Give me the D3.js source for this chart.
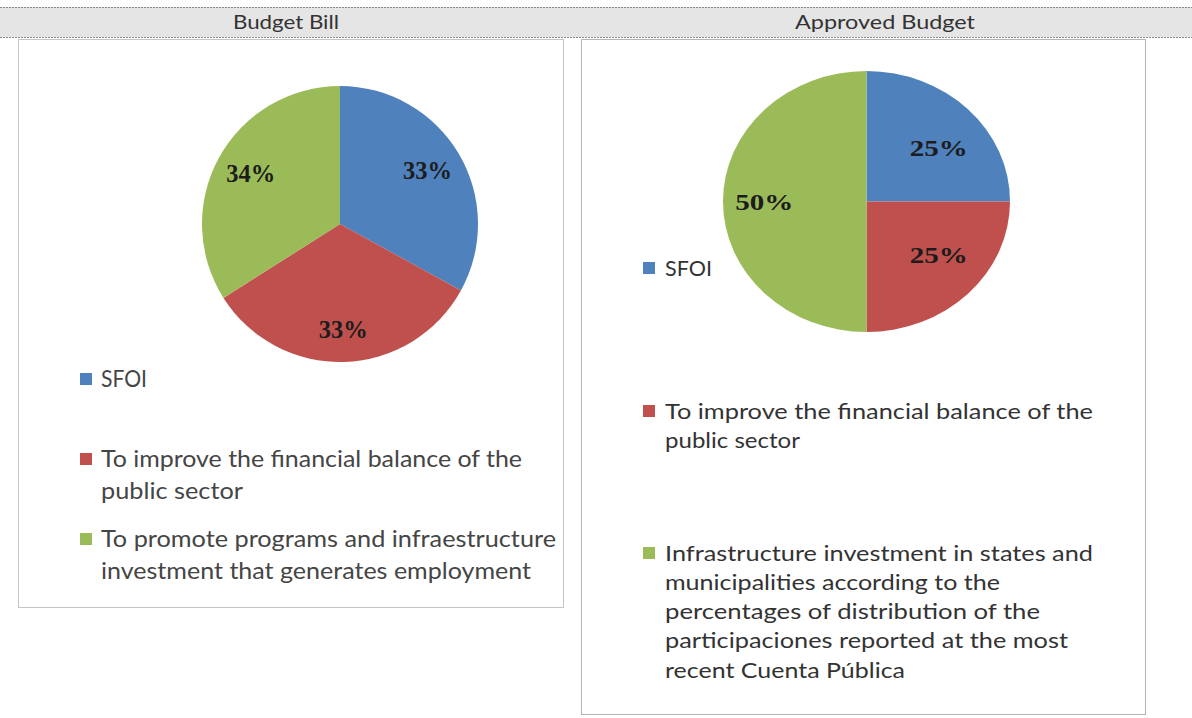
<!DOCTYPE html>
<html>
<head>
<meta charset="utf-8">
<script src="https://cdn.jsdelivr.net/npm/d3@7"></script>
<style>
  body { margin: 0; background: #fff; }
  svg { display: block; }
</style>
</head>
<body>
<div id="chart"></div>
<script>
// chart data
var panelTitles = ["Budget Bill", "Approved Budget"];

var billCategories = ["SFOI",
  "To improve the financial balance of the public sector",
  "To promote programs and infraestructure investment that generates employment"];
var billValues = [33, 33, 34];
var billLabels = ["33%", "33%", "34%"];
var billLegendLines = [
  ["SFOI"],
  ["To improve the financial balance of the", "public sector"],
  ["To promote programs and infraestructure", "investment that generates employment"]
];

var approvedCategories = ["SFOI",
  "To improve the financial balance of the public sector",
  "Infrastructure investment in states and municipalities according to the percentages of distribution of the participaciones reported at the most recent Cuenta Pública"];
var approvedValues = [25, 25, 50];
var approvedLabels = ["25%", "25%", "50%"];
var approvedLegendLines = [
  ["SFOI"],
  ["To improve the financial balance of the", "public sector"],
  ["Infrastructure investment in states and", "municipalities according to the",
   "percentages of distribution of the", "participaciones reported at the most",
   "recent Cuenta Pública"]
];

var colors = ["#4F81BD", "#C0504D", "#9BBB59"];

var W = 1192, H = 718;

var svg = d3.select("#chart").append("svg")
  .attr("width", W)
  .attr("height", H);

//header band
svg.append("rect")
  .attr("x", 0).attr("y", 7)
  .attr("width", W).attr("height", 30)
  .attr("fill", "#e5e5e5");
[7, 37].forEach(function(y){
  svg.append("line")
    .attr("x1", 0).attr("x2", W)
    .attr("y1", y + 0.5).attr("y2", y + 0.5)
    .attr("stroke", "#8a8a8a")
    .attr("stroke-dasharray", "2,1");
});
svg.selectAll("text.title")
  .data(panelTitles)
  .enter()
  .append("text")
  .attr("class", "title")
  .attr("x", function(d, i){ return i == 0 ? 286 : 885; })
  .attr("y", 29)
  .attr("text-anchor", "middle")
  .attr("font-family", "Lato, 'Open Sans', sans-serif")
  .attr("font-size", 20)
  .attr("fill", "#333")
  .attr("textLength", function(d, i){ return i == 0 ? 106 : 180; })
  .attr("lengthAdjust", "spacingAndGlyphs")
  .text(function(d){ return d; });

// panel boxes
svg.append("rect")
  .attr("x", 18.5).attr("y", 39.5)
  .attr("width", 545).attr("height", 568)
  .attr("fill", "#fff")
  .attr("stroke", "#c4c4c4");
svg.append("rect")
  .attr("x", 581.5).attr("y", 39.5)
  .attr("width", 564).attr("height", 675)
  .attr("fill", "#fff")
  .attr("stroke", "#b4b4b4");

function drawPie(opt){
  var g = svg.append("g")
    .attr("transform", "translate(" + opt.cx + "," + opt.cy + ")");

  var pie = d3.pie().sort(null).value(function(d){ return d; });
  var arcs = pie(opt.values);
  var sx = opt.rx / opt.r;

  var arc = d3.arc().innerRadius(0).outerRadius(opt.r);
  var labelArc = d3.arc().innerRadius(opt.r * opt.lf).outerRadius(opt.r * opt.lf);

  g.append("g")
    .attr("transform", "scale(" + sx + ",1)")
    .selectAll("path")
    .data(arcs)
    .enter()
    .append("path")
    .attr("d", arc)
    .attr("fill", function(d, i){ return colors[i]; });

  g.selectAll("text")
    .data(arcs)
    .enter()
    .append("text")
    .attr("x", function(d){ return labelArc.centroid(d)[0] * opt.lsx; })
    .attr("y", function(d){ return labelArc.centroid(d)[1]; })
    .attr("dy", "0.35em")
    .attr("text-anchor", "middle")
    .attr("font-family", "'Liberation Serif', 'Times New Roman', serif")
    .attr("font-weight", "bold")
    .attr("font-size", opt.fs)
    .attr("fill", "#1c1c1c")
    .attr("textLength", opt.tl)
    .attr("lengthAdjust", "spacingAndGlyphs")
    .text(function(d, i){ return opt.labels[i]; });
}

drawPie({cx: 340, cy: 224, r: 138, rx: 138, values: billValues, labels: billLabels, lf: 0.76, lsx: 0.97, fs: 25, tl: 49});
drawPie({cx: 866.5, cy: 201.5, r: 130.5, rx: 143.5, values: approvedValues, labels: approvedLabels, lf: 0.58, lsx: 1.35, fs: 23, tl: 58});

function drawLegend(opt){
  var g = svg.append("g");
  opt.lines.forEach(function(lines, i){
    var y0 = opt.ys[i];
    g.append("rect")
      .attr("x", opt.mx).attr("y", y0 - 6)
      .attr("width", 12).attr("height", 12)
      .attr("fill", colors[i]);
    g.selectAll(null)
      .data(lines)
      .enter()
      .append("text")
      .attr("x", opt.tx)
      .attr("y", function(d, j){ return y0 + j * opt.lh; })
      .attr("dy", "0.35em")
      .attr("font-family", "Lato, 'Open Sans', sans-serif")
      .attr("font-size", opt.fs)
      .attr("fill", opt.color)
      .attr("textLength", function(d, j){ return opt.widths[i][j]; })
      .attr("lengthAdjust", "spacingAndGlyphs")
      .text(function(d){ return d; });
  });
}

drawLegend({
  lines: billLegendLines, mx: 80, tx: 101, ys: [379, 459, 539], lh: 32, fs: 23,
  color: "#454545",
  widths: [[46], [421, 142], [455, 430]]
});
drawLegend({
  lines: approvedLegendLines, mx: 643, tx: 665, ys: [268, 411, 553], lh: 29.2, fs: 22,
  color: "#333",
  widths: [[47], [428, 135], [428, 335, 375, 403, 240]]
});
</script>
</body>
</html>
